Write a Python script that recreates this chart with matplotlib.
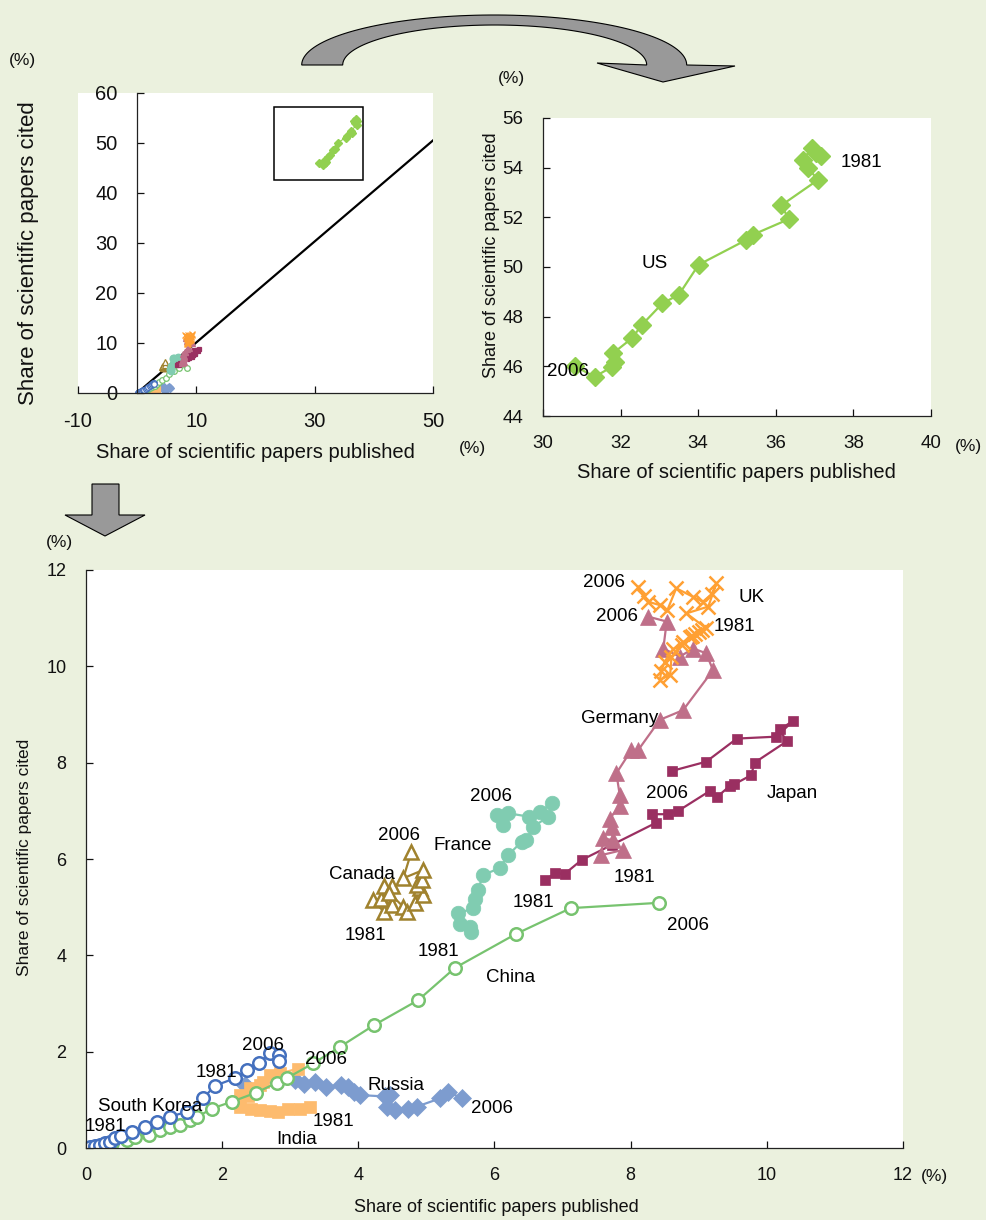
import numpy as np
import matplotlib.pyplot as plt
from matplotlib.patches import Polygon, Rectangle

plt.rcParams['font.family'] = ['Liberation Sans', 'DejaVu Sans']
plt.rcParams['axes.unicode_minus'] = False

W, H = 986, 1220
BG = '#EBF1DE'

# ---- data (share of papers published %, share of papers cited %) ----
us_x = [37.17, 37.04, 36.93, 36.70, 36.83, 37.09, 36.14, 36.34, 35.41, 35.24, 34.01,
        33.50, 33.08, 32.55, 32.29, 31.80, 31.85, 31.79, 31.33, 30.82]
us_y = [54.45, 54.59, 54.79, 54.32, 53.98, 53.51, 52.48, 51.93, 51.30, 51.09, 50.09,
        48.88, 48.54, 47.67, 47.13, 46.52, 46.19, 45.99, 45.58, 46.01]

uk_x = [9.05, 8.95, 8.87, 8.77, 8.62, 8.50, 8.45, 8.43, 8.58, 8.60, 8.75, 8.90, 9.00,
        9.10, 8.82, 9.14, 9.26, 9.19, 9.06, 8.92, 8.67, 8.54, 8.43, 8.26, 8.20, 8.11]
uk_y = [10.75, 10.68, 10.60, 10.50, 10.35, 10.10, 9.90, 9.72, 9.82, 10.20, 10.45, 10.62, 10.72,
        10.80, 11.10, 11.24, 11.72, 11.50, 11.34, 11.44, 11.62, 11.17, 11.27, 11.34, 11.45, 11.65]

de_x = [7.89, 7.57, 7.60, 7.74, 7.72, 7.69, 7.84, 7.84, 7.79, 8.01, 8.11, 8.43, 8.77,
        9.21, 9.11, 8.92, 8.72, 8.48, 8.53, 8.26]
de_y = [6.19, 6.08, 6.43, 6.39, 6.67, 6.84, 7.09, 7.33, 7.78, 8.26, 8.26, 8.89, 9.09,
        9.92, 10.27, 10.37, 10.20, 10.37, 10.93, 11.03]

jp_x = [6.74, 6.89, 7.03, 7.28, 7.72, 8.37, 8.31, 8.55, 8.70, 9.16, 9.27, 9.46, 9.52,
        9.77, 9.82, 10.29, 10.19, 10.39, 10.14, 9.56, 9.11, 8.61]
jp_y = [5.56, 5.70, 5.69, 5.98, 6.29, 6.75, 6.93, 6.93, 7.00, 7.41, 7.29, 7.52, 7.55,
        7.74, 8.00, 8.44, 8.69, 8.87, 8.54, 8.50, 8.02, 7.83]

fr_x = [5.49, 5.64, 5.66, 5.47, 5.69, 5.71, 5.76, 5.83, 6.08, 6.20, 6.40, 6.47, 6.57,
        6.79, 6.84, 6.67, 6.50, 6.20, 6.13, 6.03]
fr_y = [4.66, 4.59, 4.49, 4.87, 4.98, 5.18, 5.36, 5.67, 5.81, 6.08, 6.36, 6.39, 6.67,
        6.88, 7.16, 6.98, 6.88, 6.95, 6.71, 6.91]

ca_x = [4.37, 4.22, 4.34, 4.49, 4.37, 4.49, 4.45, 4.66, 4.71, 4.83, 4.90, 4.95, 4.86,
        4.93, 4.95, 4.66, 4.78]
ca_y = [4.91, 5.15, 5.18, 5.04, 5.43, 5.43, 5.30, 5.01, 4.91, 5.08, 5.39, 5.25, 5.46,
        5.56, 5.77, 5.60, 6.15]

cn_x = [0.38, 0.60, 0.72, 0.92, 1.09, 1.23, 1.38, 1.53, 1.63, 1.85, 2.14, 2.50, 2.80,
        2.95, 3.34, 3.73, 4.23, 4.88, 5.42, 6.31, 7.12, 8.41]
cn_y = [0.10, 0.17, 0.23, 0.27, 0.37, 0.43, 0.48, 0.58, 0.64, 0.82, 0.96, 1.15, 1.35,
        1.45, 1.76, 2.10, 2.55, 3.07, 3.74, 4.44, 4.98, 5.09]

kr_x = [0.06, 0.13, 0.21, 0.28, 0.35, 0.43, 0.52, 0.67, 0.87, 1.04, 1.23, 1.48, 1.72,
        1.89, 2.19, 2.36, 2.54, 2.70, 2.84, 2.84]
kr_y = [0.03, 0.04, 0.06, 0.10, 0.13, 0.20, 0.25, 0.34, 0.44, 0.55, 0.65, 0.75, 1.03,
        1.29, 1.45, 1.62, 1.76, 1.97, 1.93, 1.81]

in_x = [3.29, 3.14, 2.97, 2.82, 2.70, 2.56, 2.43, 2.26, 2.21, 2.26, 2.38, 2.41, 2.56,
        2.60, 2.70, 2.85, 3.12]
in_y = [0.86, 0.82, 0.81, 0.75, 0.77, 0.79, 0.82, 0.86, 0.96, 1.10, 1.07, 1.24, 1.31,
        1.38, 1.52, 1.55, 1.65]

ru_x = [2.33, 3.07, 3.20, 3.36, 3.53, 3.75, 3.85, 3.93, 4.02, 4.39, 4.46, 4.42, 4.54,
        4.73, 4.86, 5.20, 5.32, 5.52]
ru_y = [1.31, 1.41, 1.32, 1.38, 1.27, 1.31, 1.27, 1.17, 1.10, 1.07, 1.10, 0.86, 0.79,
        0.82, 0.86, 1.03, 1.17, 1.03]

# name, x, y, colour, marker, size, open
series = [
    ('Russia', ru_x, ru_y, '#7D9CCF', 'D', 9, False),
    ('India', in_x, in_y, '#FDBB6E', 's', 9, False),
    ('China', cn_x, cn_y, '#77C36F', 'o', 9, True),
    ('South Korea', kr_x, kr_y, '#4470BE', 'o', 9, True),
    ('Canada', ca_x, ca_y, '#A0822E', '^', 10, True),
    ('France', fr_x, fr_y, '#80CCB1', 'o', 10.5, False),
    ('Japan', jp_x, jp_y, '#9A2F61', 's', 7, False),
    ('Germany', de_x, de_y, '#BF6F89', '^', 11, False),
    ('UK', uk_x, uk_y, '#FFA033', 'x', 10.5, False),
]
us_color = '#92D050'

# labels in the main chart: (text, x, y)
main_notes = [
    ('2006', 7.61, 11.73), ('UK', 9.78, 11.42), ('2006', 7.80, 11.04), ('1981', 9.53, 10.82),
    ('Germany', 7.84, 8.91), ('2006', 8.53, 7.37), ('Japan', 10.38, 7.37),
    ('2006', 5.95, 7.29), ('France', 5.54, 6.29), ('2006', 4.60, 6.48), ('Canada', 4.05, 5.67),
    ('1981', 8.05, 5.61), ('1981', 6.57, 5.09), ('1981', 4.11, 4.42), ('1981', 5.17, 4.07),
    ('2006', 8.84, 4.61), ('China', 6.24, 3.53), ('2006', 2.60, 2.12), ('2006', 3.53, 1.83),
    ('1981', 1.91, 1.56), ('Russia', 4.55, 1.29), ('South Korea', 0.94, 0.87),
    ('2006', 5.96, 0.83), ('1981', 0.29, 0.44), ('1981', 3.63, 0.56), ('India', 3.10, 0.17),
]
us_notes = [('1981', 38.20, 54.19), ('US', 32.89, 50.16), ('2006', 30.64, 45.81)]

fig = plt.figure(figsize=(W / 100, H / 100), dpi=100, facecolor=BG)


def fp(x, y):
    # pixel position (origin top-left) -> figure fraction
    return x / W, 1 - y / H


def style_axes(ax, size):
    for s in ['top', 'right']:
        ax.spines[s].set_visible(False)
    for s in ['left', 'bottom']:
        ax.spines[s].set_linewidth(0.9)
        ax.spines[s].set_color('#222222')
    ax.tick_params(direction='in', length=5, width=0.9, pad=14, labelsize=size, colors='#111111')


# ---- top-left overview ----
ax1 = fig.add_axes([0.0791, 0.6779, 0.3600, 0.2459])
style_axes(ax1, 14.5)
ax1.spines['left'].set_position(('data', 0))
ax1.spines['bottom'].set_position(('data', 0))
ax1.set_xlim(-10, 50)
ax1.set_ylim(0, 60)
ax1.set_xticks([-10, 10, 30, 50])
ax1.set_yticks(np.arange(0, 61, 10))
ax1.plot([0, 50], [0, 50.5], color='black', lw=1.6, zorder=1)
ax1.plot(us_x, us_y, '-D', color=us_color, ms=4, lw=0.8)
for name, x, y, c, m, ms, op in series:
    ax1.plot(x, y, '-', marker=m, color=c, ms=ms * 0.45, lw=0.8,
             mfc='white' if op else c, mew=0.9)
ax1.add_patch(Rectangle((23.1, 42.6), 15.1, 14.6, fill=False, ec='black', lw=1.1))

# ---- top-right US zoom ----
ax2 = fig.add_axes([0.5507, 0.6590, 0.3935, 0.2443])
style_axes(ax2, 13.5)
ax2.set_xlim(30, 40)
ax2.set_ylim(44, 56)
ax2.set_xticks(np.arange(30, 41, 2))
ax2.set_yticks(np.arange(44, 57, 2))
ax2.plot(us_x, us_y, '-D', color=us_color, ms=9.5, lw=1.6)
for t, x, y in us_notes:
    ax2.text(x, y, t, ha='center', va='center', fontsize=13.5)

# ---- bottom main chart ----
ax3 = fig.add_axes([0.0872, 0.0590, 0.8286, 0.4738])
style_axes(ax3, 13)
ax3.set_xlim(0, 12)
ax3.set_ylim(0, 12)
ax3.set_xticks(np.arange(0, 13, 2))
ax3.set_yticks(np.arange(0, 13, 2))
for name, x, y, c, m, ms, op in series:
    ax3.plot(x, y, '-', marker=m, color=c, ms=ms, lw=1.6,
             mfc='white' if op else c, mew=1.8 if (op or m == 'x') else 0.5)
for t, x, y in main_notes:
    ax3.text(x, y, t, ha='center', va='center', fontsize=13.5)

# ---- axis labels and units ----
lab = dict(color='#111111')
fig.text(*fp(29, 253), 'Share of scientific papers cited', rotation=90, ha='center', va='center', fontsize=16, **lab)
fig.text(*fp(255, 453), 'Share of scientific papers published', ha='center', va='center', fontsize=14.5, **lab)
fig.text(*fp(492, 255), 'Share of scientific papers cited', rotation=90, ha='center', va='center', fontsize=13, **lab)
fig.text(*fp(736, 472), 'Share of scientific papers published', ha='center', va='center', fontsize=14.5, **lab)
fig.text(*fp(25, 857), 'Share of scientific papers cited', rotation=90, ha='center', va='center', fontsize=12.5, **lab)
fig.text(*fp(496, 1208), 'Share of scientific papers published', ha='center', va='center', fontsize=13, **lab)
for px, py in [(22, 61), (472, 449), (511, 79), (968, 447), (59, 543), (934, 1177)]:
    fig.text(*fp(px, py), '(%)', ha='center', va='center', fontsize=12.5, **lab)

# ---- arrows ----
t = np.linspace(np.pi, 0, 80)
outer = [(494.2 + 192.5 * np.cos(a), 65 - 50 * np.sin(a)) for a in t]
inner = [(494.7 + 152 * np.cos(a), 65 - 40 * np.sin(a)) for a in t[::-1]]
head = [(735, 66), (663, 82), (597, 63)]
curve = outer + head + inner
fig.patches.append(Polygon([fp(x, y) for x, y in curve], closed=True, transform=fig.transFigure,
                           fc='#999999', ec='black', lw=0.8))
down = [(92, 484), (119, 484), (119, 515), (145, 515), (105, 536), (65, 515), (92, 515)]
fig.patches.append(Polygon([fp(x, y) for x, y in down], closed=True, transform=fig.transFigure,
                           fc='#999999', ec='black', lw=0.8))

fig.savefig('out.png', dpi=100, facecolor=BG)
